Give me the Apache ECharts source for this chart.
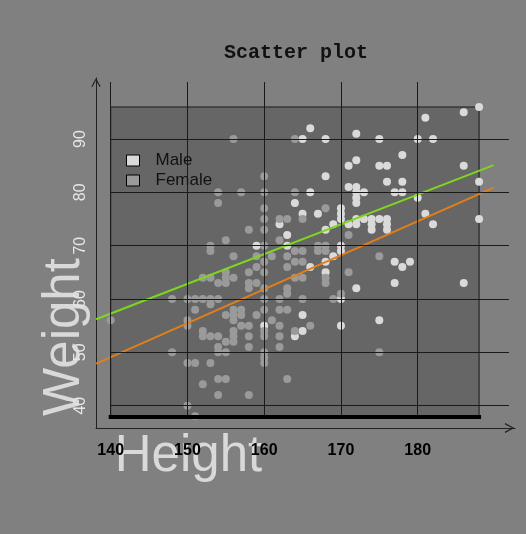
<!DOCTYPE html>
<html>
<head>
<meta charset="utf-8">
<script src="https://cdn.jsdelivr.net/npm/echarts@6/dist/echarts.min.js"></script>
<style>
	html, body { margin: 0; padding: 0; background: #808080; }
	#scatterChart { width: 526px; height: 534px; }
</style>
</head>
<body>
<div id="scatterChart"></div>
<script>
// Height (cm), Weight (kg)
const maleData = [
	[188, 96], [186, 95], [181, 94], [166, 92], [172, 91],
	[165, 90], [168, 90], [175, 90], [180, 90], [182, 90],
	[178, 87], [172, 86], [171, 85], [175, 85], [176, 85], [186, 85],
	[168, 83], [176, 82], [178, 82], [188, 82],
	[171, 81], [172, 81], [166, 80], [172, 80], [173, 80], [177, 80], [178, 80],
	[172, 79], [180, 79], [164, 78], [172, 78],
	[170, 77], [165, 76], [167, 76], [170, 76], [181, 76],
	[170, 75], [172, 75], [173, 75], [174, 75], [175, 75], [176, 75], [188, 75],
	[169, 74], [171, 74], [172, 74], [174, 74], [176, 74], [182, 74], [162, 74],
	[168, 73], [174, 73], [176, 73], [163, 72],
	[159, 70], [163, 70], [170, 70], [170, 69], [169, 68],
	[168, 67], [177, 67], [179, 67], [166, 66], [178, 66], [168, 65],
	[172, 62], [177, 63], [186, 63], [170, 60], [165, 57], [175, 56],
	[170, 55], [160, 55], [165, 54], [164, 53]
];
const femaleData = [
	[156, 90], [164, 90], [160, 83], [154, 80], [157, 80], [160, 80], [164, 80],
	[154, 78], [160, 77], [168, 77],
	[160, 75], [162, 75], [163, 75], [165, 75], [158, 73], [160, 73],
	[155, 71], [162, 71], [171, 72],
	[153, 70], [153, 69], [160, 70], [167, 70], [168, 70], [167, 69], [168, 69], [165, 69], [164, 69],
	[156, 68], [159, 68], [161, 68], [163, 68], [175, 68], [160, 67], [164, 67], [165, 67],
	[159, 66], [163, 66], [160, 65], [155, 65], [158, 65], [171, 65],
	[152, 64], [153, 64], [155, 64], [156, 64], [164, 64], [165, 64], [168, 64],
	[154, 63], [155, 63], [158, 63], [159, 63], [168, 63],
	[158, 62], [160, 62], [163, 62], [163, 61], [170, 61],
	[148, 60], [150, 60], [151, 60], [152, 60], [153, 60], [154, 60], [160, 60], [162, 60], [165, 60], [169, 60],
	[153, 59], [151, 58], [156, 58], [157, 58], [160, 58], [162, 58], [163, 58],
	[155, 57], [156, 57], [157, 57], [159, 57],
	[140, 56], [150, 56], [156, 56], [161, 56], [150, 55], [157, 55], [158, 55], [162, 55], [166, 55],
	[152, 54], [156, 54], [160, 54], [164, 54],
	[152, 53], [153, 53], [154, 53], [156, 53], [158, 53], [160, 53], [162, 53],
	[155, 52], [156, 52], [154, 51], [158, 51], [162, 51],
	[148, 50], [154, 50], [155, 50], [160, 50], [175, 50],
	[160, 49], [150, 48], [151, 48], [153, 48], [160, 48],
	[154, 45], [155, 45], [163, 45], [152, 44], [154, 42], [158, 42], [150, 40], [151, 38]
];
// regression lines, end points
const greenLine = [[138.1, 56.2], [189.9, 85.1]];
const orangeLine = [[138.1, 47.9], [189.9, 80.9]];
const xTicks = [140, 150, 160, 170, 180];
const yTicks = [40, 50, 60, 70, 80, 90];

document.addEventListener('DOMContentLoaded', function() {
	const chart = echarts.init(document.getElementById('scatterChart'));
	const all = maleData.concat(femaleData);
	const panelLeft = Math.min.apply(null, all.map(p => p[0]));
	const panelRight = Math.max.apply(null, all.map(p => p[0]));
	const panelBottom = Math.min.apply(null, all.map(p => p[1]));
	const panelTop = Math.max.apply(null, all.map(p => p[1]));
	const xMin = 138.085, xMax = 192.68, yMin = 35.82, yMax = 101.44;
	const vLineTop = 100.69, hLineRight = 191.9;
	const chevron = 'path://M5,0L10,9L8.8,9.6L5,2.4L1.2,9.6L0,9Z';
	const font = 'Liberation Sans';

	const gridLines = xTicks.map(x => [{ coord: [x, vLineTop] }, { coord: [x, panelBottom] }])
		.concat(yTicks.map(y => [{ coord: [panelLeft, y] }, { coord: [hLineRight, y] }]));

	const option = {
		animation: false,
		backgroundColor: '#808080',
		title: {
			text: 'Scatter plot',
			left: 291,
			top: 38,
			textAlign: 'center',
			textStyle: { fontFamily: 'Liberation Mono', fontWeight: 'bold', fontSize: 20, color: '#111' }
		},
		legend: {
			data: ['Male', 'Female'],
			orient: 'vertical',
			left: 126,
			top: 152,
			padding: 0,
			icon: 'rect',
			itemWidth: 13,
			itemHeight: 11,
			itemGap: 3,
			itemStyle: { borderColor: '#000', borderWidth: 1 },
			textStyle: { fontFamily: font, fontSize: 17, color: '#111', padding: [0, 0, 0, 11] }
		},
		grid: { left: 96, right: 11, top: 78, bottom: 106 },
		xAxis: {
			type: 'value',
			min: xMin,
			max: xMax,
			name: 'Height',
			nameLocation: 'middle',
			nameGap: 3,
			nameMoveOverlap: false,
			nameTextStyle: { fontFamily: font, fontSize: 51, color: '#d9d9d9', padding: [0, 234, 0, 0] },
			axisLine: {
				show: true,
				symbol: ['none', chevron],
				symbolSize: [10, 11],
				symbolOffset: [0, -5.5],
				lineStyle: { color: '#222', width: 1 }
			},
			axisTick: { show: false },
			splitLine: { show: false },
			axisLabel: {
				customValues: xTicks,
				fontFamily: font,
				fontWeight: 'bold',
				fontSize: 16,
				color: '#000',
				margin: 15
			}
		},
		yAxis: {
			type: 'value',
			min: yMin,
			max: yMax,
			name: 'Weight',
			nameLocation: 'middle',
			nameRotate: 90,
			nameGap: 6,
			nameMoveOverlap: false,
			nameTextStyle: { fontFamily: font, fontSize: 51, color: '#d9d9d9', padding: [0, 168, 0, 0] },
			axisLine: {
				show: true,
				symbol: ['none', chevron],
				symbolSize: [10, 9],
				symbolOffset: [0, -4.5],
				lineStyle: { color: '#222', width: 1 }
			},
			axisTick: { show: false },
			splitLine: { show: false },
			axisLabel: {
				customValues: yTicks,
				rotate: 90,
				fontFamily: font,
				fontSize: 16,
				color: '#e6e6e6',
				margin: 7
			}
		},
		series: [
			{
				name: 'panel',
				type: 'scatter',
				data: [],
				z: 1,
				silent: true,
				markArea: {
					silent: true,
					itemStyle: { color: '#666666', borderColor: '#1a1a1a', borderWidth: 1 },
					data: [[{ coord: [panelLeft, panelBottom] }, { coord: [panelRight, panelTop] }]]
				}
			},
			{
				name: 'grid',
				type: 'scatter',
				data: [],
				z: 2,
				silent: true,
				markLine: {
					silent: true,
					symbol: 'none',
					label: { show: false },
					lineStyle: { color: '#1a1a1a', width: 1, type: 'solid' },
					data: gridLines.concat([[
						{ coord: [panelLeft, panelBottom], lineStyle: { color: '#000', width: 4, cap: 'square' } },
						{ coord: [panelRight, panelBottom] }
					]])
				}
			},
			{
				name: 'Male',
				type: 'scatter',
				z: 3,
				symbolSize: 8,
				itemStyle: { color: '#dadada', opacity: 1 },
				data: maleData
			},
			{
				name: 'Female',
				type: 'scatter',
				z: 3,
				symbolSize: 8,
				itemStyle: { color: '#9a9a9a', opacity: 1 },
				data: femaleData
			},
			{
				name: 'fitGreen',
				type: 'line',
				z: 4,
				silent: true,
				symbol: 'none',
				lineStyle: { color: '#7fd61e', width: 2 },
				data: greenLine
			},
			{
				name: 'fitOrange',
				type: 'line',
				z: 4,
				silent: true,
				symbol: 'none',
				lineStyle: { color: '#e0801c', width: 2 },
				data: orangeLine
			}
		]
	};
	chart.setOption(option);
	window.addEventListener('resize', function() {
		chart.resize();
	});
});
</script>
</body>
</html>
